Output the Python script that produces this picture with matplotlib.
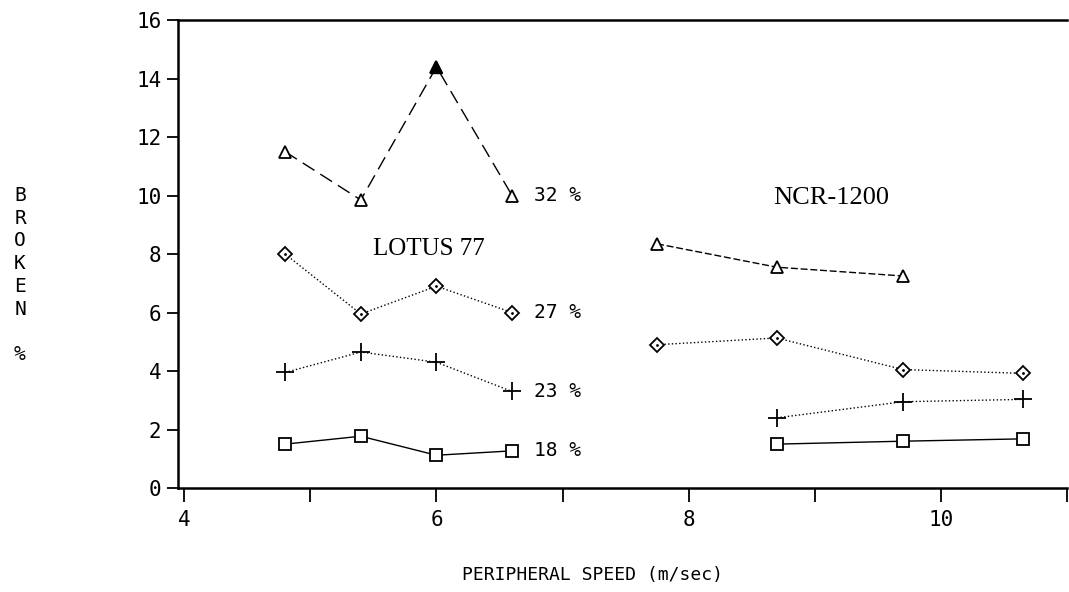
import matplotlib
matplotlib.use("Agg")
import matplotlib.pyplot as plt
import numpy as np

plt.rcParams['font.family'] = ['DejaVu Sans Mono']

# Lotus 77 series
lotus_x = [4.8, 5.4, 6.0, 6.6]
lotus_32 = [11.5, 9.85, 14.4, 10.0]
lotus_27 = [8.0, 5.95, 6.9, 6.0]
lotus_23 = [3.95, 4.65, 4.3, 3.3]
lotus_18 = [1.5, 1.77, 1.12, 1.27]

# NCR-1200 series
ncr_x32 = [7.75, 8.7, 9.7]
ncr_32 = [8.35, 7.55, 7.25]
ncr_x27 = [7.75, 8.7, 9.7, 10.65]
ncr_27 = [4.9, 5.13, 4.05, 3.92]
ncr_x23 = [8.7, 9.7, 10.65]
ncr_23 = [2.4, 2.95, 3.03]
ncr_x18 = [8.7, 9.7, 10.65]
ncr_18 = [1.5, 1.6, 1.68]

moisture_labels = ['32 %', '27 %', '23 %', '18 %']

fig = plt.figure(figsize=(10.69, 5.92), dpi=100)
ax = fig.add_axes([0.1665, 0.1757, 0.8315, 0.7903])

kw = dict(color='black', lw=1.0, mfc='white', mec='black', mew=1.3)

ax.plot(lotus_x, lotus_32, marker='^', ms=9, dashes=(10, 5), **kw)
ax.plot(ncr_x32, ncr_32, marker='^', ms=9, dashes=(5, 2), **kw)
i = int(np.argmax(lotus_32))
ax.plot(lotus_x[i], lotus_32[i], marker='^', ms=9, color='black', ls='none')

ax.plot(lotus_x, lotus_27, marker='D', ms=7, ls=':', **kw)
ax.plot(ncr_x27, ncr_27, marker='D', ms=7, ls=':', **kw)
ax.plot(lotus_x + ncr_x27, lotus_27 + ncr_27, marker='.', ms=2, ls='none', color='black')

ax.plot(lotus_x, lotus_23, marker='+', ms=13, ls=':', **kw)
ax.plot(ncr_x23, ncr_23, marker='+', ms=13, ls=':', **kw)

ax.plot(lotus_x, lotus_18, marker='s', ms=9, ls='-', **kw)
ax.plot(ncr_x18, ncr_18, marker='s', ms=9, ls='-', **kw)

for lab, y in zip(moisture_labels, [lotus_32[-1], lotus_27[-1], lotus_23[-1], lotus_18[-1]]):
    ax.text(lotus_x[-1] + 0.17, y, lab, fontsize=14, va='center', ha='left')

ax.text(5.94, 8.17, 'LOTUS 77', fontsize=18, ha='center', va='center',
        family='Liberation Serif')
ax.text(9.13, 9.92, 'NCR-1200', fontsize=19, ha='center', va='center',
        family='Liberation Serif')

ax.set_xlim(3.95, 11.0)
ax.set_ylim(0, 16)
ax.set_xticks([4, 6, 8, 10])
ax.set_xticks([5, 7, 9, 11], minor=True)
ax.set_yticks(range(0, 17, 2))
ax.tick_params(axis='both', which='both', direction='out', labelsize=15, width=1.3)
ax.tick_params(axis='x', which='both', length=10, pad=6)
ax.tick_params(axis='y', length=8, pad=4)
ax.spines['right'].set_visible(False)
for s in ['left', 'bottom', 'top']:
    ax.spines[s].set_linewidth(1.8)

fig.text(592 / 1069, 1 - 575 / 592, 'PERIPHERAL SPEED (m/sec)', fontsize=13, ha='center', va='center')
fig.text(20 / 1069, 1 - 275 / 592, 'B\nR\nO\nK\nE\nN\n\n%', fontsize=14, ha='center', va='center', linespacing=1.25)

fig.savefig('out.png', dpi=100)
